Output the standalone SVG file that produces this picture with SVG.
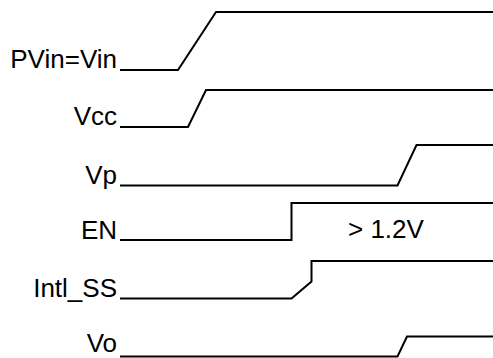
<svg xmlns="http://www.w3.org/2000/svg" width="493" height="358" viewBox="0 0 493 358">
<style>
.lbl{font-family:"Liberation Sans",Arial,sans-serif;font-size:26px;fill:#000;text-anchor:end}
.note{font-family:"Liberation Sans",Arial,sans-serif;font-size:26px;fill:#000}
.sig{fill:none;stroke:#000;stroke-width:2}
</style>
<rect width="493" height="358" fill="#fff"/>
<g id="PVin"><text class="lbl" x="117" y="67.5">PVin=Vin</text></g>
<g id="Vcc"><text class="lbl" x="117" y="125">Vcc</text></g>
<g id="Vp"><text class="lbl" x="117" y="184">Vp</text></g>
<g id="EN"><text class="lbl" x="117" y="239">EN</text><text class="note" x="348" y="238">&gt; 1.2V</text></g>
<g id="Intl_SS"><text class="lbl" x="117" y="297">Intl_SS</text></g>
<g id="Vo"><text class="lbl" x="117" y="352">Vo</text></g>
<g id="connectors">
<path class="sig" d="M120,70 H178 L216,12 H493"/>
<path class="sig" d="M120,127 H188 L206,90 H493"/>
<path class="sig" d="M120,185.5 H397.5 L416.5,145 H493"/>
<path class="sig" d="M120,240 H291.5 V203 H493"/>
<path class="sig" d="M120,298.5 H291.5 L311.5,281.5 V261 H493"/>
<path class="sig" d="M120,356.5 H397.5 L407,336.5 H493"/>
</g>
</svg>
